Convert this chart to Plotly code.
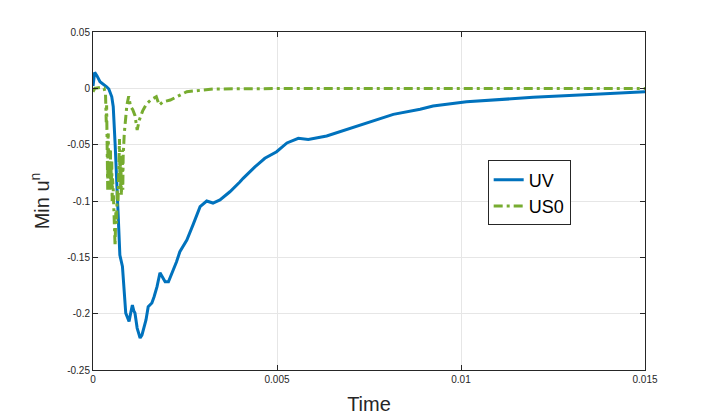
import plotly.graph_objects as go

# curves
t_uv = [0, 0.000046, 0.00011, 0.00019, 0.00037, 0.00043, 0.00051, 0.00055, 0.0006,
        0.00064, 0.00069, 0.00073, 0.00075, 0.0008, 0.00089, 0.00094, 0.00098, 0.00103,
        0.00107, 0.00111, 0.00114, 0.0012, 0.00128, 0.00133, 0.00137, 0.00144, 0.0015,
        0.0016, 0.00166, 0.00174, 0.00182, 0.00189, 0.00196, 0.00205, 0.00217, 0.00227,
        0.00236, 0.00255, 0.00272, 0.00291, 0.00309, 0.00326, 0.00345, 0.00372, 0.00399,
        0.00408, 0.0044, 0.00467, 0.00499, 0.00527, 0.00558, 0.00585, 0.00635, 0.00707,
        0.00762, 0.00816, 0.00889, 0.00924, 0.01015, 0.01196, 0.01378, 0.015]
uv = [0.002, 0.0142, 0.011, 0.0059, 0.0014, -0.0006, -0.0075, -0.0163, -0.0485,
      -0.0873, -0.117, -0.148, -0.152, -0.158, -0.1995, -0.2035, -0.207, -0.1985,
      -0.1923, -0.1977, -0.1995, -0.2128, -0.2216, -0.219, -0.2145, -0.2056, -0.1938,
      -0.1905, -0.185, -0.176, -0.1637, -0.168, -0.1717, -0.1717, -0.1628, -0.154,
      -0.145, -0.1346, -0.121, -0.105, -0.100, -0.1018, -0.0991, -0.0918, -0.0832,
      -0.0799, -0.0698, -0.0621, -0.0563, -0.0485, -0.0444, -0.0453, -0.0423, -0.0346,
      -0.0288, -0.0231, -0.0186, -0.0157, -0.0119, -0.008, -0.0051, -0.003]

t_us0 = [0, 0.00005, 0.0002, 0.0003, 0.00034, 0.00036, 0.00037, 0.00038, 0.000385,
         0.00039, 0.000395, 0.0004, 0.000405, 0.00041, 0.000415, 0.00042, 0.000425,
         0.00043, 0.000435, 0.00044, 0.000445, 0.00045, 0.000455, 0.00046, 0.000465,
         0.00047, 0.000475, 0.00048, 0.00049, 0.0005, 0.00051, 0.00052, 0.00053,
         0.00055, 0.00057, 0.00058, 0.0006, 0.00062, 0.00064, 0.00066, 0.00068,
         0.0007, 0.00072, 0.00073, 0.00074, 0.00075, 0.00076, 0.00077, 0.00078,
         0.00079, 0.0008, 0.00081, 0.00082, 0.00085, 0.00088, 0.00092, 0.00097,
         0.00102, 0.00108, 0.00114, 0.0012, 0.00126, 0.00135, 0.00145, 0.00158,
         0.00172, 0.0018, 0.0019, 0.0021, 0.00255, 0.00326, 0.005, 0.015]
us0 = [-0.003, 0, 0.0007, 0.0003, -0.005, -0.03, -0.015, -0.06, -0.035,
       -0.08, -0.05, -0.09, -0.045, -0.07, -0.04, -0.085, -0.05,
       -0.09, -0.06, -0.085, -0.055, -0.08, -0.065, -0.09, -0.06,
       -0.075, -0.055, -0.09, -0.07, -0.085, -0.065, -0.1, -0.08,
       -0.09, -0.12, -0.13, -0.14, -0.11, -0.12, -0.09, -0.1,
       -0.075, -0.045, -0.08, -0.06, -0.09, -0.07, -0.095, -0.065,
       -0.085, -0.055, -0.09, -0.06, -0.04, -0.025, -0.015, -0.007,
       -0.016, -0.019, -0.024, -0.037, -0.028, -0.02, -0.014, -0.01,
       -0.0075, -0.0148, -0.012, -0.0104, -0.003, -0.0006, -0.0002, -0.0002]

x_ticks = [0, 0.005, 0.01, 0.015]
x_labels = ['0', '0.005', '0.01', '0.015']
y_ticks = [0.05, 0, -0.05, -0.1, -0.15, -0.2, -0.25]
y_labels = ['0.05', '0', '-0.05', '-0.1', '-0.15', '-0.2', '-0.25']

fig = go.Figure()

fig.add_trace(go.Scatter(x=t_uv, y=uv, mode='lines', name='UV',
                         line=dict(color='#0072BD', width=3)))
fig.add_trace(go.Scatter(x=t_us0, y=us0, mode='lines', name='US0',
                         line=dict(color='#77AC30', width=3, dash='9px,4px,3px,4px')))

axis_style = dict(
    showline=True, linecolor='#262626', linewidth=1, mirror='allticks',
    ticks='inside', ticklen=5, tickcolor='#262626',
    showgrid=True, gridcolor='#e6e6e6', gridwidth=1, zeroline=False,
    tickfont=dict(family='Liberation Sans', size=10, color='#262626'),
    automargin=False,
)

# page body has an 8px margin, so the figure is a bit smaller than the window
fig.update_layout(
    width=706, height=407,
    margin=dict(l=85, r=69, t=24, b=45),
    plot_bgcolor='white', paper_bgcolor='white',
    font=dict(family='Liberation Sans', color='#262626'),
    xaxis=dict(range=[0, 0.015], tickvals=x_ticks, ticktext=x_labels,
               title=dict(text='Time', font=dict(size=20), standoff=14), **axis_style),
    yaxis=dict(range=[-0.25, 0.05], tickvals=y_ticks, ticktext=y_labels,
               title=dict(text='Min u<sup>n</sup>', font=dict(size=20), standoff=12), **axis_style),
    legend=dict(x=0.715, y=0.62, xanchor='left', yanchor='top',
                bgcolor='white', bordercolor='#262626', borderwidth=1,
                font=dict(size=18, color='#000000'), itemwidth=30, tracegroupgap=0),
)

fig.write_html("out.html")
